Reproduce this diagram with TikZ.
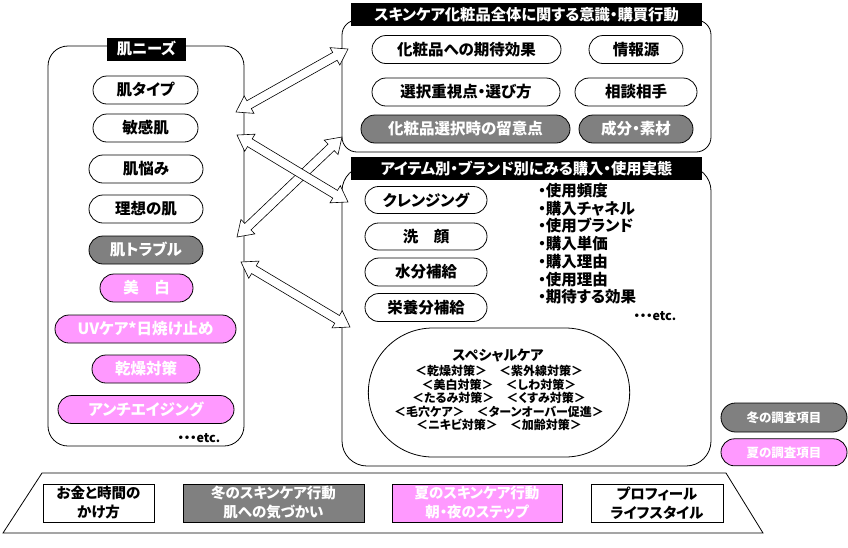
\documentclass[tikz,border=0pt]{standalone}
\usepackage{fontspec}
\setmainfont{Noto Sans CJK JP}[RawFeature={+palt}]
\usepackage{tikz}
\usetikzlibrary{shapes.misc, positioning, calc}
\definecolor{wintergray}{RGB}{128,128,128}
\definecolor{summerpink}{RGB}{255,153,255}
\tikzstyle{frame} = [rectangle, draw, line width=0.8pt, rounded corners=20pt]
\tikzstyle{heading} = [fill=black, text=white, font=\bfseries\fontsize{15.3}{17}\selectfont, inner sep=0pt, minimum height=23pt]
\tikzstyle{pill} = [rounded rectangle, draw, line width=0.8pt, fill=white, font=\bfseries\fontsize{15.5}{17}\selectfont, minimum height=28pt, inner sep=0pt]
\tikzstyle{winter} = [pill, fill=wintergray, text=white]
\tikzstyle{summer} = [pill, fill=summerpink, text=white]
\tikzstyle{itembox} = [rectangle, draw, line width=1pt, align=center, font=\bfseries\fontsize{14.5}{19}\selectfont, minimum height=38pt, inner sep=0pt]
\tikzstyle{etcnote} = [font=\bfseries\fontsize{12.5}{14}\selectfont, inner sep=0pt]
\tikzstyle{twoway} = [draw, line width=0.6pt, fill=white]
\newcommand{\bothways}[2]{%
  \draw[twoway] (#1)
    -- ($(#1)!15pt!(#2)!10pt!90:(#2)$)
    -- ($(#1)!15pt!(#2)!4.5pt!90:(#2)$)
    -- ($(#2)!15pt!(#1)!4.5pt!-90:(#1)$)
    -- ($(#2)!15pt!(#1)!10pt!-90:(#1)$)
    -- (#2)
    -- ($(#2)!15pt!(#1)!10pt!90:(#1)$)
    -- ($(#2)!15pt!(#1)!4.5pt!90:(#1)$)
    -- ($(#1)!15pt!(#2)!4.5pt!-90:(#2)$)
    -- ($(#1)!15pt!(#2)!10pt!-90:(#2)$)
    -- cycle;}

\begin{document}
\begin{tikzpicture}[x=1pt, y=-1pt]
  \useasboundingbox (0,0) rectangle (848,547);

  % the three frames
  \node[frame, minimum width=196pt, minimum height=400pt] (needsframe) at (146,246) {};
  \node[frame, rounded corners=15pt, minimum width=369pt, minimum height=132pt] (generalframe) at (526.5,86) {};
  \node[frame, rounded corners=25pt, minimum width=369pt, minimum height=300pt] (itemframe) at (526.5,316) {};

  % skin needs
  \node[heading, minimum width=79pt] (needs) at (146.5,49) {肌ニーズ};
  \node[pill, minimum width=105pt] (skintype) at (145.5,90) {肌タイプ};
  \node[pill, minimum width=105pt] (sensitive) at (145.5,128) {敏感肌};
  \node[pill, minimum width=114pt] (worry) at (146,169) {肌悩み};
  \node[pill, minimum width=114pt] (ideal) at (146,209) {理想の肌};
  \node[winter, minimum width=114pt] (trouble) at (146,250) {肌トラブル};
  \node[summer, minimum width=93pt] (whitening) at (146.5,288) {美　白};
  \node[summer, minimum width=181pt] (uvcare) at (145.5,329) {UVケア*日焼け止め};
  \node[summer, minimum width=108pt] (dryness) at (146,369) {乾燥対策};
  \node[summer, minimum width=176pt] (antiaging) at (146,409.5) {アンチエイジング};
  \node[etcnote] (needsetc) at (199,438) {・・・etc.};

  % skincare in general
  \node[heading, minimum width=351pt] (general) at (526.5,14.5) {スキンケア化粧品全体に関する意識・購買行動};
  \node[pill, minimum width=189pt] (effect) at (466.5,49.5) {化粧品への期待効果};
  \node[pill, minimum width=94pt] (source) at (636,49.5) {情報源};
  \node[pill, minimum width=188pt] (criteria) at (466,92) {選択重視点・選び方};
  \node[pill, minimum width=122pt] (advisor) at (636,92) {相談相手};
  \node[winter, minimum width=209pt] (caution) at (465.5,129) {化粧品選択時の留意点};
  \node[winter, minimum width=114pt] (ingredient) at (636,129) {成分・素材};

  % by item and brand
  \node[heading, minimum width=351pt] (items) at (526.5,168.5) {アイテム別・ブランド別にみる購入・使用実態};
  \node[pill, minimum width=122pt, minimum height=27pt] (cleansing) at (426,200) {クレンジング};
  \node[pill, minimum width=122pt, minimum height=27pt] (facewash) at (426,236.5) {洗　顔};
  \node[pill, minimum width=122pt, minimum height=28pt] (moisture) at (426,272) {水分補給};
  \node[pill, minimum width=122pt, minimum height=28pt] (nutrient) at (426,307.5) {栄養分補給};
  \node[anchor=north west, align=left, inner sep=0pt, font=\bfseries\fontsize{15.5}{17.7}\selectfont] (aspects) at (538,183)
    {・使用頻度\\・購入チャネル\\・使用ブランド\\・購入単価\\・購入理由\\・使用理由\\・期待する効果};
  \node[etcnote] (itemsetc) at (655,316) {・・・etc.};
  \node[rounded rectangle, draw, line width=0.8pt, minimum width=268pt, minimum height=129pt] (special) at (499,392.5) {};
  \node[font=\bfseries\fontsize{14}{16}\selectfont, inner sep=0pt] (specialtitle) at (498,355) {スペシャルケア};
  \node[align=center, inner sep=0pt, font=\bfseries\fontsize{12}{13.5}\selectfont] (speciallist) at (499,398)
    {＜乾燥対策＞　＜紫外線対策＞\\＜美白対策＞　＜しわ対策＞\\＜たるみ対策＞　＜くすみ対策＞\\＜毛穴ケア＞　＜ターンオーバー促進＞\\＜ニキビ対策＞　＜加齢対策＞};

  % two-way arrows between the frames
  \coordinate (a1l) at (236,112);
  \coordinate (a1r) at (348,49);
  \coordinate (a2l) at (237,135);
  \coordinate (a2r) at (348,202);
  \coordinate (a3l) at (237,237);
  \coordinate (a3r) at (342,137);
  \coordinate (a4l) at (241,262);
  \coordinate (a4r) at (350,327);
  \bothways{a1l}{a1r}
  \bothways{a3l}{a3r}
  \bothways{a2l}{a2r}
  \bothways{a4l}{a4r}

  % legend
  \node[winter, minimum width=126pt, minimum height=29pt, font=\bfseries\fontsize{12.5}{14}\selectfont] (winterkey) at (784,417.5) {冬の調査項目};
  \node[summer, minimum width=126pt, minimum height=27pt, font=\bfseries\fontsize{12.5}{14}\selectfont, below=6pt of winterkey] (summerkey) {夏の調査項目};

  % base
  \draw[line width=0.8pt] (42,473) -- (726,473) -- (763,533) -- (3,533) -- cycle;
  \node[itembox, minimum width=111pt] (money) at (98.5,503) {お金と時間の\\かけ方};
  \node[itembox, fill=wintergray, text=white, minimum width=181pt] (winterhabit) at (273.5,503) {冬のスキンケア行動\\肌への気づかい};
  \node[itembox, fill=summerpink, text=white, minimum width=170pt] (summerhabit) at (477,503) {夏のスキンケア行動\\朝・夜のステップ};
  \node[itembox, minimum width=132pt] (profile) at (657,503) {プロフィール\\ライフスタイル};
\end{tikzpicture}
\end{document}
